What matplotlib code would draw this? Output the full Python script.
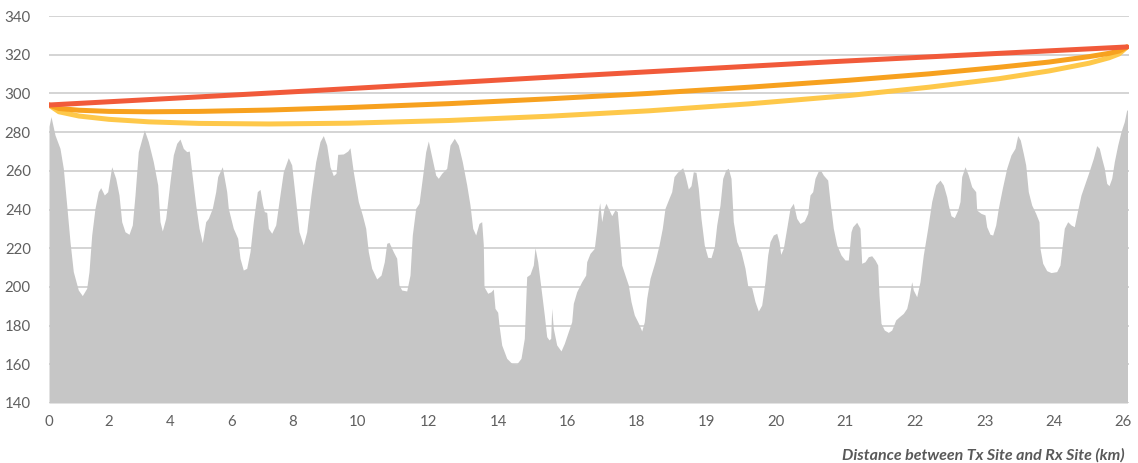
import matplotlib
matplotlib.use("Agg")
import matplotlib.pyplot as plt

plt.rcParams['font.family'] = ['Lato', 'DejaVu Sans']

# profile sample position (path sample index, 0..1078) and terrain elevation (m)
terrain_pos = [
    0, 2, 6, 11, 14.3, 17.7, 21, 24.3, 29.3, 33.3, 37.7, 40, 42.7, 46, 49.3, 51.7, 55.3, 58.7,
    62.7, 66.7, 70, 72.7, 76, 80, 83.3, 86, 89.3, 95.3, 99.3, 104.3, 108.7, 111, 113.3, 116.7,
    121, 124.3, 127.7, 131, 134.3, 137.7, 140.3, 142.7, 146.7, 150, 153.3, 156.7, 159.3, 163.3,
    166.7, 168.7, 173.3, 177.7, 179.3, 184.3, 188.7, 191, 194.3, 197.7, 201, 204.3, 208.3, 211,
    213.7, 215.3, 217.7, 219.3, 222.7, 226.7, 230, 234.3, 239.3, 242.7, 246, 250, 254.3, 257.7,
    262, 266.7, 271, 274.3, 277.7, 281, 284.3, 287, 288.7, 294.3, 298.7, 301, 304.3, 309.3,
    313.3, 316.7, 319.3, 322.7, 327.7, 332, 335.3, 337.7, 340, 344.3, 347.7, 350, 352.7, 357.7,
    361, 363.3, 366.7, 370, 373.3, 376.7, 379.3, 382.7, 386.7, 389.3, 392.7, 397.7, 401, 405.3,
    409.3, 413.3, 417.7, 421, 423.7, 426.7, 430, 432.7, 434.3, 435, 438.7, 442, 444.3, 446,
    448.7, 450, 452.7, 457.7, 462.7, 467.7, 472, 475.3, 476.7, 477.7, 481, 484.3, 486, 488.7,
    492, 495.3, 497.7, 500, 501.7, 502.7, 504.3, 507.7, 512, 515.3, 519.3, 522.7, 524.3, 527.7,
    532.7, 536.7, 537.7, 541, 545.3, 547.7, 549.3, 550.7, 552.7, 555, 557, 559.3, 562.7, 566,
    568.3, 570.3, 572.7, 576, 579.3, 582, 585.3, 588.7, 590.3, 592.7, 595.3, 597.7, 601, 606,
    610, 613.3, 616, 620, 622.7, 625, 628.3, 631, 633.7, 636, 639.3, 642, 644.3, 647, 649.3,
    652, 655.3, 658.7, 662, 665.3, 667.7, 671, 673.7, 676.7, 679.3, 682, 684.3, 687.7, 692,
    696, 698.7, 702.7, 706, 709.3, 712.7, 716, 718.7, 721, 724.3, 727.7, 730, 731.7, 734.3,
    737.7, 741, 744.3, 747.7, 751, 755.3, 758.7, 761, 763.7, 766, 769.3, 772, 774.3, 778.7,
    781, 784.3, 787.7, 792, 796, 799.3, 802, 803.7, 807.7, 811, 812.7, 816, 819.3, 822.7, 826,
    828.7, 830, 832, 835.3, 839.3, 842.7, 846.7, 850.3, 854.3, 857.7, 860, 862.7, 864.3, 867.7,
    871, 874.3, 878.7, 882.7, 886.7, 891, 894.3, 897.7, 899.3, 902, 905.3, 908.7, 911, 912.7,
    916, 919.3, 922.7, 926.7, 927.7, 932, 936, 937.7, 941, 943.7, 946.7, 949.3, 953.3, 957.7,
    962, 966, 968.7, 971.3, 974.3, 976.7, 979.3, 982.7, 986.7, 990, 991, 993.7, 997.7, 1002,
    1007.7, 1011, 1013.3, 1015.3, 1018.7, 1022, 1025.3, 1028.7, 1032, 1036, 1040, 1044.3,
    1047.7, 1050.3, 1052.7, 1055.3, 1057.7, 1060, 1062.7, 1065.3, 1068.7, 1072, 1075.3,
    1077.7, 1078.5,
]
terrain_elev = [
    283, 288, 278.5, 271.6, 261.3, 242.3, 223.4, 207.9, 198.4, 195.5, 199.3, 207.9, 226.8,
    240.6, 249.2, 251.3, 247.5, 249.2, 262.1, 256.1, 247.5, 233.7, 228.5, 227.2, 232.0, 247.5,
    269.9, 281.1, 275.1, 264.7, 252.7, 233.7, 228.9, 235.4, 254.4, 268.2, 274.2, 276.4, 271.6,
    269.9, 270.2, 259.5, 242.3, 230.3, 222.9, 233.7, 235.4, 240.6, 249.2, 257.0, 262.1, 249.2,
    240.6, 230.3, 225.1, 214.8, 208.7, 209.6, 218.2, 233.7, 249.2, 250.4, 242.3, 238.9, 238.5,
    230.3, 227.7, 232.0, 244.1, 259.5, 266.8, 263.0, 247.5, 228.5, 221.7, 228.5, 247.5, 264.7,
    275.1, 278.2, 273.3, 262.1, 257.5, 258.7, 268.5, 268.7, 270.2, 271.9, 259.5, 244.1, 237.2,
    230.3, 218.2, 209.6, 204.1, 206.1, 213.0, 222.5, 223.0, 218.2, 214.8, 201.0, 198.4, 197.9,
    206.1, 226.8, 240.6, 243.2, 256.1, 269.9, 275.4, 267.3, 257.8, 256.1, 258.7, 261.3, 273.3,
    276.8, 273.3, 264.7, 252.7, 242.3, 230.3, 226.8, 232.8, 233.7, 221.7, 200.1, 196.7, 197.5,
    198.9, 188.9, 186.9, 180.3, 170.0, 163.1, 160.5, 160.2, 163.1, 173.4, 192.4, 205.3, 206.5,
    211.3, 220.3, 213.0, 199.3, 185.5, 174.3, 172.6, 173.4, 188.9, 178.6, 170.0, 166.9, 170.8,
    176.9, 182.0, 191.5, 197.5, 202.7, 206.1, 213.0, 217.3, 219.9, 230.3, 238.9, 243.5, 233.7,
    240.6, 243.2, 240.6, 236.8, 239.8, 238.9, 226.8, 211.3, 206.1, 201.0, 192.4, 185.5, 182.0,
    180.3, 177.2, 182.0, 194.1, 204.4, 213.0, 221.6, 230.3, 240.6, 245.8, 249.2, 257.0, 259.2,
    260.4, 261.6, 257.8, 250.6, 252.3, 259.5, 259.2, 250.9, 235.4, 221.6, 215.3, 215.1, 220.8,
    232.0, 242.3, 256.1, 260.4, 261.3, 256.1, 233.7, 223.4, 218.2, 209.6, 200.6, 199.6, 192.4,
    187.5, 190.6, 202.7, 216.5, 223.4, 226.8, 227.7, 223.4, 216.8, 219.9, 230.3, 240.6, 243.2,
    235.4, 232.8, 234.1, 238.0, 247.5, 249.2, 256.1, 259.9, 259.9, 257.8, 255.2, 244.1, 230.3,
    221.7, 216.5, 213.9, 213.9, 228.5, 231.1, 233.4, 230.3, 212.2, 213.0, 215.6, 216.1, 213.9,
    211.3, 195.8, 181.2, 177.7, 176.5, 177.7, 182.9, 184.6, 186.3, 188.9, 194.1, 202.7, 198.4,
    194.9, 202.7, 216.5, 230.3, 244.1, 252.7, 255.2, 252.7, 246.6, 242.3, 236.8, 235.8, 239.7,
    244.1, 257.0, 262.1, 257.8, 251.8, 249.2, 239.7, 238.0, 237.2, 231.1, 227.2, 226.8, 232.0,
    240.6, 250.9, 261.3, 268.2, 271.6, 278.2, 275.9, 269.0, 263.0, 249.2, 242.3, 238.0, 233.7,
    219.9, 212.2, 208.4, 207.4, 207.9, 211.3, 221.7, 230.3, 233.7, 232.0, 231.1, 239.7, 247.5,
    253.5, 259.5, 266.4, 273.0, 271.6, 266.4, 261.3, 253.5, 252.3, 256.1, 264.7, 273.3, 280.2,
    285.4, 291.4, 291.4,
]

# line of sight (red)
los_pos = [0, 250, 491, 784, 1078]
los_elev = [294.0, 301.0, 308.1, 316.4, 324.0]

# lower curves (orange / yellow)
curve_pos = [0, 10, 30, 60, 100, 150, 220, 300, 400, 500, 600, 700, 800, 880, 950, 1000,
             1040, 1060, 1070, 1078]
orange_elev = [294.0, 292.2, 291.3, 290.7, 290.5, 290.7, 291.4, 292.7, 294.7, 297.2, 300.0,
               303.2, 306.8, 310.1, 313.5, 316.2, 319.0, 320.7, 321.9, 324.0]
yellow_elev = [294.0, 290.5, 288.3, 286.6, 285.3, 284.5, 284.2, 284.6, 286.0, 288.2, 291.0,
               294.6, 298.9, 303.2, 307.6, 311.6, 315.6, 318.4, 320.4, 324.0]

# x tick positions (sample index) and their labels (km)
xtick_pos = [0, 60, 121, 183, 244, 309, 379, 449, 518, 588, 658, 727, 796, 866, 936, 1005, 1074]
xtick_labels = ['0', '2', '4', '6', '8', '10', '12', '14', '16', '18', '19', '20', '21', '22',
                '23', '24', '26']
ytick_vals = [140, 160, 180, 200, 220, 240, 260, 280, 300, 320, 340]

axis_title = 'Distance between Tx Site and Rx Site (km)'

W, H = 1138, 463
fig = plt.figure(figsize=(W / 100, H / 100), dpi=100)
ax = fig.add_axes([49 / W, 60 / H, 1080 / W, 387 / H])

ax.fill_between(terrain_pos, terrain_elev, 140, color='#c6c6c6', linewidth=0, zorder=2)

ax.plot(curve_pos, yellow_elev, color='#fec84a', lw=3.6, solid_capstyle='round', zorder=3)
ax.plot(curve_pos, orange_elev, color='#f7a11f', lw=3.6, solid_capstyle='round', zorder=4)
ax.plot(los_pos, los_elev, color='#f15a3a', lw=3.6, solid_capstyle='round', zorder=5)

ax.set_xlim(0, 1080)
ax.set_ylim(140, 340)
ax.set_yticks(ytick_vals)
ax.set_xticks(xtick_pos)
ax.set_xticklabels(xtick_labels)
ax.yaxis.grid(True, color='#d4d4d4', linewidth=1.4, zorder=1)
ax.set_axisbelow(True)
for s in ax.spines.values():
    s.set_visible(False)
ax.tick_params(axis='both', length=0, labelsize=10.8, labelcolor='#606060')
ax.tick_params(axis='y', pad=13)
ax.tick_params(axis='x', pad=9)

fig.text(1125 / W, 8 / H, axis_title, ha='right', va='center', fontsize=11.5,
         fontweight='bold', fontstyle='italic', color='#595959')

fig.savefig('out.png', dpi=100)
